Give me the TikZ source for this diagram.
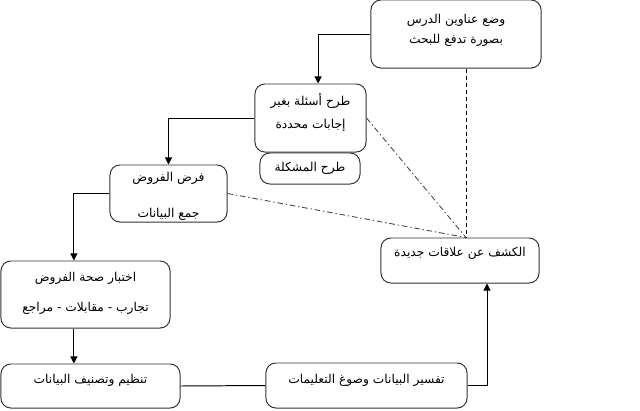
\documentclass[tikz,border=0pt]{standalone}
\usepackage{fontspec}
\newfontfamily\arabicfont[Script=Arabic]{DejaVu Sans}
\TeXXeTstate=1
\usetikzlibrary{arrows.meta}

\tikzset{
  box/.style={draw=black!80, rounded corners=7pt, line width=0.7pt, inner sep=0pt},
  txt/.style={font=\arabicfont\fontsize{8.7}{10}\selectfont, inner sep=1pt, align=center},
  flow/.style={line width=0.7pt, -{Triangle[length=5pt,width=5pt]}},
  link/.style={line width=0.7pt},
  dashlink/.style={line width=0.6pt, dash pattern=on 3pt off 2pt},
  dotlink/.style={line width=0.6pt, black!75, dash pattern=on 4pt off 2pt on 1pt off 2pt}
}

\begin{document}
\begin{tikzpicture}[x=0.025cm, y=-0.025cm]
\useasboundingbox (0,0) rectangle (640,410);

% Boxes
\node[box, minimum width=4.25cm, minimum height=1.7cm] (topics) at (456,34) {};
\node[box, minimum width=2.775cm, minimum height=1.7cm] (questions) at (310.5,118) {};
\node[box, minimum width=2.5cm, minimum height=0.775cm] (problem) at (310,168.5) {};
\node[box, minimum width=2.925cm, minimum height=1.425cm] (hypo) at (168.5,193.5) {};
\node[box, minimum width=4.225cm, minimum height=1.675cm] (testing) at (85.5,294.5) {};
\node[box, minimum width=4.475cm, minimum height=1.1cm] (organise) at (90.5,386) {};
\node[box, minimum width=5.025cm, minimum height=1.125cm] (interpret) at (366.5,385.5) {};
\node[box, minimum width=3.95cm, minimum height=1.125cm] (kashf) at (460,260.5) {};

% Texts
\node[txt] (topicsT) at (456,30) {\beginR وضع عناوين الدرس\endR\\[4pt]\beginR بصورة تدفع للبحث\endR};
\node[txt] (questionsT) at (310.5,112.5) {\beginR طرح أسئلة بغير\endR\\[6.4pt]\beginR إجابات محددة\endR};
\node[txt] (problemT) at (310,168.5) {\beginR طرح المشكلة\endR};
\node[txt] (hypoT) at (168.5,196) {\beginR فرض الفروض\endR\\[15.5pt]\beginR جمع البيانات\endR};
\node[txt] (testingT) at (85.5,293) {\beginR اختبار صحة الفروض\endR\\[11.3pt]\beginR تجارب - مقابلات - مراجع\endR};
\node[txt] (organiseT) at (90.5,380) {\beginR تنظيم وتصنيف البيانات\endR};
\node[txt] (interpretT) at (366.5,380) {\beginR تفسير البيانات وصوغ التعليمات\endR};
\node[txt] (kashfT) at (460,253) {\beginR الكشف عن علاقات جديدة\endR};

% Main flow
\draw[flow] (topics.west) -| ([xshift=0.19cm]questions.north);
\draw[flow] (questions.west) -| (hypo.north);
\draw[flow] (hypo.west) -| ([xshift=-0.29cm]testing.north);
\coordinate (t1) at ([xshift=-0.29cm]testing.south);
\draw[flow] (t1) -- (t1 |- organise.north);
\draw[link] (organise.east) -- (interpret.west);
\draw[flow] (interpret.east) -| ([xshift=0.675cm]kashf.south);

% Links to the discovery box
\coordinate (meet) at ([xshift=0.15cm]kashf.north);
\draw[dashlink] (meet |- topics.south) -- (meet);
\draw[dotlink] (questions.east) -- (meet);
\draw[dotlink] (hypo.east) -- (meet);
\end{tikzpicture}
\end{document}
